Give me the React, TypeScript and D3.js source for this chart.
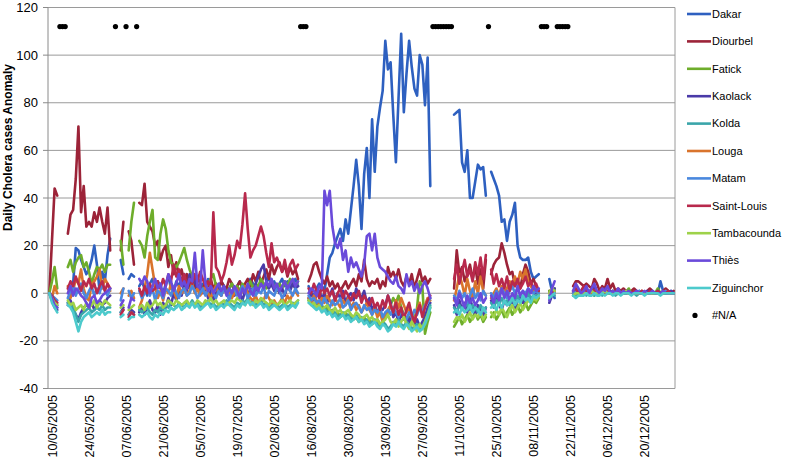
import * as d3 from 'd3';

// days counted from 10/05/2005; each series is split into the same runs of days
const segmentStarts = [-1, 6, 26, 29, 33, 97, 152, 166, 188, 197];
const naDays = [3, 4, 5, 24, 28, 32, 94, 95, 96, 144, 145, 146, 147, 148, 149, 150, 151, 165, 185, 186, 187, 191, 192, 193, 194, 195];
const naValue = 112;

const tickLabels = ['10/05/2005', '24/05/2005', '07/06/2005', '21/06/2005', '05/07/2005', '19/07/2005', '02/08/2005', '16/08/2005',
  '30/08/2005', '13/09/2005', '27/09/2005', '11/10/2005', '25/10/2005', '08/11/2005', '22/11/2005', '06/12/2005', '20/12/2005'];
const yTicks = [-40, -20, 0, 20, 40, 60, 80, 100, 120];

const dakar = [
  [0, -1, -4, -5],
  [-4, -1, 4, 19, 18, 14, 11, 8, 10, 14, 20, 12, 1, 9, 5, 16, 23],
  [14, 8],
  [6, 8, 7],
  [3, 5, 2, -1, 4, 6, 2, 5, 3, 0, 4, 7, 2, 1, 5, 3, 6, 8, 4, 2, 5, 7, 3, 1, 4, 2, 6, 3, 1, 4,
    2, 5, 3, 0, 2, 4, 1, 3, 5, 2, 0, 3, 6, 4, 1, 3, 5, 2, 4, 7, 3, 5, 2, 4, 6, 3, 5, 2, 4, 6, 3],
  [3, 0, -1, 2, 4, 3, 1, 8, 15, 17, 21, 24, 27, 22, 31, 25, 35, 45, 56, 45, 27, 50, 61, 40, 73, 51, 70, 78, 85, 106,
    94, 97, 75, 55, 82, 109, 76, 92, 106, 95, 86, 83, 100, 96, 79, 99, 45],
  [75, 76, 77, 55, 51, 60, 40, 40, 47, 54, 52, 53, 41],
  [51, 48, 45, 41, 30, 31, 22, 30, 33, 38, 20, 15, 14, 14, 15, 9, 6, 7, 8],
  [6, 1, -2],
  [1, 0, 1, 0, 2, 0, 1, 0, 1, 0, 0, 1, 0, 0, 1, 0, 0, 1, 0, 0, 0, 1, 0, 0, 0, 1, 0, 0, 0, 1, 0, 0, 0, 5, 1, 0, 0, 1, 0],
];
const diourbel = [
  [0, 22, 44, 41],
  [25, 33, 35, 48, 70, 34, 45, 28, 30, 28, 34, 30, 36, 30, 25, 36, 18],
  [18, 30],
  [26, 22, 12],
  [38, 37, 46, 30, 28, 26, 20, 22, 14, 18, 20, 11, 16, 8, 13, 6, 10, 5, 8, 3, 6, 2, 7, 4, 1, 5, 3, 6, 2, 4,
    1, 5, 3, 2, 6, 4, 1, 3, 5, 2, 4, 6, 3, 8, 5, 9, 4, 7, 10, 6, 12, 8, 11, 13, 9, 12, 7, 11, 8, 10, 6],
  [5, 8, 12, 13, 9, 6, 4, 7, 3, 5, 2, 4, 1, 3, 5, 2, 4, 6, 3, 8, 5, 14, 6, 3, 5, 4, 6, 2, 5, 3,
    11, 7, 9, 6, 10, 5, 3, 7, 4, 8, 2, 6, 10, 5, 7, 4, 6],
  [2, 18, 8, 11, 5, 8, 12, 6, 11, 4, 10, 2, 14],
  [8, 12, 14, 15, 21, 17, 12, 8, 9, 3, 5, 2, 8, 12, 9, 4, 6, 3, 1],
  [1, 0, 1],
  [3, 5, 5, 4, 3, 4, 3, 2, 6, 4, 1, 3, 2, 6, 2, 4, 1, 2, 1, 2, 1, 0, 1, 2, 1, 0, 1, 0, 1, 2, 1, 0, 1, 0, 1, 2, 1, 0, 1],
];
const fatick = [
  [0, 5, 11, 2],
  [11, 14, 9, 13, 15, 16, 11, 13, 9, 4, 8, 11, 10, 12, 9, 12, 12],
  [22, 12],
  [18, 30, 38],
  [22, 20, 15, 24, 30, 35, 15, 14, 25, 31, 27, 18, 13, 12, 11, 13, 16, 19, 14, 10, 7, 5, 3, 4, 1, 2, 4, 6, 8, 3,
    2, 1, 3, 0, 2, 4, 2, 3, 1, 4, 2, 3, 5, 2, 4, 3, 6, 4, 2, 3, 5, 3, 1, 4, 2, 5, 3, 6, 4, 2, 5],
  [-3, -4, -5, -4, -6, -5, -7, -6, -8, -7, -9, -8, -10, -9, -8, -10, -9, -11, -10, -12, -11, -10, -12, -11, -13, -12, -11, -13, -12, -10,
    -8, -5, -2, -4, -1, -6, -9, -12, -10, -13, -11, -6, 5, 3, -17, -12, -8],
  [-14, -12, -10, -13, -11, -9, -12, -10, -8, -11, -9, -12, -10],
  [-10, -8, -11, -9, -7, -10, -8, -6, -9, -7, -5, -8, -6, -4, -7, -5, -3, -4, -2],
  [1, 0, 2],
  [0, 0, -1, 0, 0, 1, 0, 0, -1, 0, 0, 1, 0, 0, 0, 1, 0, 0, 0, 0, 0, 2, 0, 0, 0, 0, 0, 0, 0, 0, 0, 0, 2, 0, 0, 0, 0, 0, 0],
];
const kaolack = [
  [0, -3, -6, -7],
  [-5, -3, -7, -9, -11, -8, -6, -5, -6, -4, -7, -5, -3, -5, -4, -2, -1],
  [-8, -6],
  [-9, -7, -8],
  [-8, -5, -9, -6, -3, -7, -8, -5, -9, -4, -6, -2, -5, 0, -3, 2, -1, 4, 1, 8, 3, 6, 1, 4, 0, 3, -2, 1, -3, 0,
    2, -1, 3, 0, -2, 1, -1, 2, 0, -3, 1, -1, 2, 0, 4, 7, 10, 12, 5, 2, 4, 1, 3, 0, 2, -1, 3, 1, 4, 2, 3],
  [-2, 0, -3, -1, 1, -2, 0, -4, -1, 2, -3, 0, -2, 1, -4, -1, 0, -3, 2, -1, -2, 1, -4, -2, -7, -5, -8, -6, -7, -5,
    -1, -4, -10, -8, -12, -9, -11, -10, -12, -9, -13, -11, -14, -12, -10, -6, -4],
  [-5, -9, -3, -7, -4, -8, -2, -6, -9, -5, -7, -10, -6],
  [-3, -6, -2, -5, -7, -3, -5, -2, -4, -6, -3, -1, -4, -2, 0, -3, -1, 1, -1],
  [-4, -1, 2],
  [0, 2, -1, 1, 0, 2, 0, 1, 3, 0, 1, 0, 2, 0, 1, 0, 0, 1, 0, 0, 1, 0, 0, 0, 1, 0, 0, 0, 1, 0, 0, 0, 1, 0, 0, 0, 0, 1, 0],
];
const kolda = [
  [0, -3, -5, -6],
  [-4, -5, -6, -9, -12, -9, -8, -7, -6, -8, -7, -6, -7, -5, -7, -6, -6],
  [-8, -7],
  [-9, -8, -9],
  [-7, -8, -7, -6, -8, -9, -7, -8, -6, -7, -5, -6, -4, -5, -6, -4, -5, -6, -4, -5, -3, -5, -4, -6, -5, -4, -3, -5, -4, -6,
    -5, -4, -5, -3, -4, -5, -6, -4, -5, -3, -4, -2, -4, -3, -5, -4, -3, -5, -4, -6, -5, -4, -5, -6, -5, -4, -6, -5, -4, -5, -3],
  [-3, -4, -5, -6, -5, -7, -6, -8, -7, -9, -8, -10, -9, -8, -10, -9, -11, -10, -9, -11, -10, -12, -11, -13, -12, -11, -13, -14, -12, -13,
    -15, -14, -12, -13, -11, -13, -14, -12, -13, -15, -14, -13, -15, -14, -12, -9, -5],
  [-6, -8, -5, -7, -6, -4, -7, -5, -6, -8, -5, -7, -6],
  [-4, -6, -3, -5, -2, -4, -3, -5, -2, -3, -1, -4, -2, -3, 0, -2, -1, -1, 0],
  [-1, 0, -1],
  [-1, -1, 0, -1, 0, -1, 0, 0, -1, 0, 0, -1, 0, 0, 0, 0, -1, 0, 0, 0, 0, 0, 0, 0, -1, 0, 0, 0, 0, 0, 0, 0, 0, 0, 0, 0, 0, 0, 0],
];
const louga = [
  [0, -2, 3, 0],
  [3, -2, 1, 6, 4, 10, 2, -2, -3, 4, 5, 7, 10, 2, 6, 4, 1],
  [0, 2],
  [-1, 1, -2],
  [-6, -3, 2, 8, 17, 10, 3, -2, 1, -3, 2, 0, 4, 1, -2, 3, 0, 2, -1, 1, 4, 0, 2, -1, 1, 3, 0, -2, 1, 3,
    0, -1, 2, 0, 1, -2, 0, 2, -1, 1, 3, 0, -2, -3, -1, -4, -2, -3, 0, -2, -4, -3, -5, -4, -2, -4, -1, -3, 0, 1, -1],
  [-2, -4, -1, -3, -5, -2, -4, -1, -3, -5, -2, -4, -6, -3, -5, -2, -6, -4, -7, -5, -8, -6, -4, -7, -9, -6, -10, -8, -12, -9,
    -7, -5, -8, -3, -6, -2, -5, -8, -6, -10, -12, -7, -4, -8, -5, -2, -3],
  [-3, 2, 8, 4, -1, 6, 1, -2, 5, 0, 7, 1, -1],
  [-2, 0, 2, -1, 3, 0, 2, 5, 3, 7, 4, 9, 6, 10, 5, 3, 1, 2, 0],
  [0, 1, 0],
  [0, 1, 0, 0, 1, 0, 0, 0, 1, 0, 0, 0, 0, 1, 0, 0, 0, 0, 0, 1, 0, 0, 0, 0, 0, 0, 1, 0, 0, 0, 0, 0, 0, 0, 0, 1, 0, 0, 0],
];
const matam = [
  [0, -1, -2, -3],
  [-2, 1, 3, -1, 2, 4, 0, -2, 1, 3, -1, 2, 0, 4, 1, -1, 2],
  [-3, 2],
  [1, -2, 0],
  [1, -2, 0, 3, -1, 2, -3, 1, 0, -2, 2, 1, -1, 3, 0, -2, 1, 2, -1, 0, 3, 1, -2, 0, 2, -1, 1, 3, 0, -2,
    1, -1, 2, 0, -3, 1, 2, -1, 0, 3, 1, -2, 0, 2, -1, 1, 0, 3, -2, 1, 0, -1, 2, 1, -2, 0, 3, 1, -1, 2, 0],
  [-1, -3, -2, -4, -3, -5, -2, -4, -6, -3, -5, -4, -2, -6, -5, -3, -7, -5, -4, -6, -8, -5, -7, -6, -9, -7, -8, -6, -10, -8,
    -7, -9, -6, -8, -10, -7, -9, -11, -8, -10, -7, -9, -6, -8, -5, -4, -2],
  [-1, -3, 1, -2, 0, -4, -1, 2, -2, 0, -3, 1, -1],
  [0, -2, 1, -1, 2, 0, -2, 1, 3, 0, 2, -1, 1, 0, 2, 1, 0, 1, 0],
  [0, -1, 0],
  [0, 1, 0, 0, 1, 0, 0, 1, 0, 0, 0, 1, 0, 0, 0, 1, 0, 0, 0, 0, 1, 0, 0, 0, 0, 1, 0, 0, 0, 0, 1, 0, 0, 0, 0, 1, 0, 0, 0],
];
const saintLouis = [
  [0, -1, -3, -4],
  [2, 5, 3, 7, 4, 1, 5, 3, 6, 2, 4, 0, 3, 5, 1, 4, 2],
  [-9, -7],
  [-10, -8, -9],
  [2, -1, 3, 0, 4, 1, 2, 5, 2, 6, 3, 8, 5, 12, 7, 10, 4, 8, 3, 6, 4, 8, 5, 9, 6, 3, 5, 2, 34, 11,
    9, 5, 8, 13, 20, 12, 16, 22, 19, 29, 42, 27, 15, 18, 20, 24, 28, 24, 17, 11, 21, 13, 15, 12, 9, 14, 8, 12, 14, 10, 12],
  [2, 0, 4, 1, -2, 3, 0, 2, -1, 1, -3, 0, 2, -2, 1, -1, -3, 0, -2, 1, -4, -1, -3, -5, -2, -6, -4, -7, -3, -6,
    -1, -5, -8, -4, -9, -6, -11, -7, -4, -9, -12, -8, -5, -10, -6, -3, -1],
  [6, 12, 4, 9, 14, 7, 10, 5, 13, 8, 15, 6, 16],
  [10, 4, 8, 3, 6, 2, 7, 1, 5, 3, 6, 2, 4, 7, 3, 5, 2, 4, 1],
  [0, 1, 0],
  [1, 2, 0, 1, 3, 1, 0, 2, 1, 0, 1, 2, 0, 1, 0, 1, 0, 1, 0, 0, 1, 0, 0, 1, 0, 0, 1, 0, 0, 1, 0, 0, 1, 0, 0, 0, 1, 0, 0],
];
const tambacounda = [
  [0, -2, -4, -5],
  [-3, -5, -4, -7, -6, -5, -7, -4, -6, -5, -3, -6, -4, -5, -3, -4, -5],
  [-6, -5],
  [-7, -6, -5],
  [-6, -5, -7, -4, -6, -5, -3, -5, -4, -6, -5, -3, -4, -5, -3, -4, -5, -4, -3, -5, -4, -5, -3, -4, -5, -3, -4, -2, -4, -3,
    -5, -4, -3, -5, -4, -3, -4, -2, -3, -4, -5, -3, -4, -5, -3, -4, -2, -3, -4, -5, -3, -4, -5, -4, -3, -5, -4, -3, -5, -4, -3],
  [-3, -5, -4, -6, -5, -7, -6, -5, -7, -8, -6, -8, -7, -9, -8, -7, -9, -10, -8, -9, -11, -10, -9, -11, -10, -12, -11, -13, -12, -11,
    -9, -12, -13, -11, -14, -12, -10, -13, -15, -12, -14, -16, -13, -15, -12, -9, -6],
  [-12, -10, -11, -9, -12, -10, -8, -11, -9, -10, -8, -11, -9],
  [-8, -10, -7, -9, -6, -8, -10, -7, -5, -8, -6, -4, -7, -5, -3, -4, -2, -3, -1],
  [0, 2, 1],
  [-1, 0, 0, -1, 0, 0, 0, 1, 0, 0, 0, 0, 1, 0, 0, 0, 0, 0, 0, 0, 1, 0, 0, 0, 0, 0, 0, 0, 0, 0, 0, 0, 0, 0, 0, 0, 0, 0, 0],
];
const thies = [
  [0, -2, -5, -6],
  [0, 3, -1, 2, 1, -1, -2, -4, -6, -2, -1, -4, -3, -1, 0, 1, 2],
  [-5, -3],
  [-6, -2, -3],
  [6, 4, 7, 5, 0, 3, 6, 2, 4, -1, 3, 8, 5, 1, 4, 8, 3, 5, 2, 6, 5, 17, 3, 2, 18, 4, 1, 3, 0, 2,
    4, 1, 3, -1, 2, 0, 3, 1, -2, 2, 0, 4, 1, -1, 3, 1, 4, 2, 5, 3, 6, 2, 4, 1, 3, 5, 2, 4, 6, 3, 5],
  [0, 2, 1, -1, 3, 2, 43, 37, 43, 28, 21, 19, 23, 14, 18, 9, 15, 11, 13, 10, 7, 12, 24, 25, 18, 25, 15, 11, 10, 9,
    7, 5, 4, 7, 3, 2, 0, 8, 3, 5, 1, 4, 0, 3, 5, 2, -2],
  [-2, -5, 0, -3, -6, -1, -4, -2, -5, -3, 0, -4, -2],
  [-1, -4, 0, -3, 2, -2, 1, -3, 0, -2, 3, -1, 1, -2, 2, 0, 3, 1, 2],
  [-3, 2, 5],
  [1, 4, 2, 0, 1, 3, 0, 2, 4, 1, 0, 2, 1, 3, 0, 1, 0, 2, 0, 1, 0, 1, 0, 0, 1, 0, 0, 1, 0, 0, 1, 0, 0, 0, 1, 0, 0, 0, 0],
];
const ziguinchor = [
  [0, -4, -6, -8],
  [-5, -6, -8, -12, -16, -12, -10, -9, -8, -10, -9, -8, -9, -7, -9, -8, -8],
  [-10, -9],
  [-11, -10, -10],
  [-9, -10, -9, -8, -10, -11, -9, -10, -8, -9, -7, -8, -6, -7, -6, -5, -7, -6, -5, -6, -4, -6, -5, -7, -6, -5, -4, -6, -5, -7,
    -6, -5, -6, -4, -5, -6, -7, -5, -6, -4, -5, -3, -5, -4, -6, -5, -4, -6, -5, -7, -6, -5, -6, -7, -6, -5, -7, -6, -5, -6, -4],
  [-4, -5, -6, -7, -6, -8, -7, -9, -8, -10, -9, -11, -10, -9, -11, -10, -12, -11, -10, -12, -11, -13, -12, -14, -13, -12, -14, -15, -13, -14,
    -16, -15, -13, -14, -12, -14, -15, -13, -14, -16, -15, -14, -16, -15, -13, -10, -6],
  [-8, -7, -9, -6, -8, -7, -5, -8, -6, -7, -9, -6, -8],
  [-6, -5, -7, -4, -6, -3, -5, -4, -2, -5, -3, -4, -1, -3, -2, -4, -1, -2, -1],
  [-2, -1, 0],
  [-1, -2, -1, -1, -1, 0, -1, -1, 0, -1, -1, 0, -1, 0, 0, -1, 0, 0, -1, 0, 0, 0, -1, 0, 0, 0, 0, -1, 0, 0, 0, 0, 0, -1, 0, 0, 0, 0, 0],
];

const series = [
  { name: 'Dakar', color: '#2E60C0', data: dakar },
  { name: 'Diourbel', color: '#9C2338', data: diourbel },
  { name: 'Fatick', color: '#6EAD2B', data: fatick },
  { name: 'Kaolack', color: '#4A3AA8', data: kaolack },
  { name: 'Kolda', color: '#3AA5AA', data: kolda },
  { name: 'Louga', color: '#D9742C', data: louga },
  { name: 'Matam', color: '#4A88DE', data: matam },
  { name: 'Saint-Louis', color: '#B8294C', data: saintLouis },
  { name: 'Tambacounda', color: '#9ED24A', data: tambacounda },
  { name: 'Thiès', color: '#6A4ADA', data: thies },
  { name: 'Ziguinchor', color: '#4DCACC', data: ziguinchor },
];

const W = 787;
const H = 460;
const plot = { left: 48, right: 675, top: 7.5, bottom: 388.5 };
const font = "'Liberation Sans', Arial, sans-serif";
const DAY = 864e5;
const base = Date.UTC(2005, 4, 10);

const App = () => {
  // one band per day, 09/05/2005 .. 31/12/2005
  const x = d3.scaleUtc()
    .domain([new Date(Date.UTC(2005, 4, 8, 12)), new Date(Date.UTC(2005, 11, 31, 12))])
    .range([plot.left, plot.right]);
  const y = d3.scaleLinear().domain([-40, 120]).range([plot.bottom, plot.top]);
  const dayX = (d: number) => x(new Date(base + d * DAY));
  const parse = d3.utcParse('%d/%m/%Y');

  // each run of days is its own sub-path, so gaps stay open
  const pathFor = (data: number[][]) =>
    data.map((seg, k) => d3.line<number>()
      .x((_, j) => dayX(segmentStarts[k] + j))
      .y(v => y(v))(seg) || '').join(' ');

  return (
    <svg width={W} height={H} style={{ position: 'absolute', left: 0, top: 0, background: '#fff' }} fontFamily={font}>
      {yTicks.map(t => (
        <line key={t} x1={plot.left} x2={plot.right} y1={y(t)} y2={y(t)} stroke="#9a9a9a" strokeWidth={1} />
      ))}
      <line x1={plot.right} x2={plot.right} y1={plot.top} y2={plot.bottom} stroke="#9a9a9a" />
      <line x1={plot.left} x2={plot.left} y1={plot.top} y2={plot.bottom} stroke="#8a8a8a" />
      {yTicks.map(t => (
        <g key={'t' + t}>
          <line x1={plot.left - 5} x2={plot.left} y1={y(t)} y2={y(t)} stroke="#8a8a8a" />
          <text x={38} y={y(t)} dy="0.35em" textAnchor="end" fontSize={13} fill="#000">{t}</text>
        </g>
      ))}
      {tickLabels.map(l => {
        const px = x(parse(l) as Date);
        return (
          <text key={l} transform={`translate(${px + 4.6},395) rotate(-90)`} textAnchor="end" fontSize={12.5} fill="#000">{l}</text>
        );
      })}
      <text transform="translate(12,147.5) rotate(-90)" textAnchor="middle" fontSize={12} fontWeight="bold" fill="#000">
        Daily Cholera cases Anomaly
      </text>

      {series.map(s => (
        <path key={s.name} d={pathFor(s.data)} fill="none" stroke={s.color} strokeWidth={2.6}
          strokeLinejoin="round" strokeLinecap="round" />
      ))}
      {naDays.map(d => (
        <circle key={d} cx={dayX(d)} cy={y(naValue)} r={2.6} fill="#000" />
      ))}

      {series.map((s, i) => {
        const ly = 14 + i * 27.4;
        return (
          <g key={'lg' + s.name}>
            <line x1={687} x2={711} y1={ly} y2={ly} stroke={s.color} strokeWidth={2.6} />
            <text x={712} y={ly} dy="0.35em" fontSize={11} fill="#000">{s.name}</text>
          </g>
        );
      })}
      <circle cx={695} cy={14 + 11 * 27.4} r={2.6} fill="#000" />
      <text x={712} y={14 + 11 * 27.4} dy="0.35em" fontSize={11} fill="#000">#N/A</text>
    </svg>
  );
};

export default App;
